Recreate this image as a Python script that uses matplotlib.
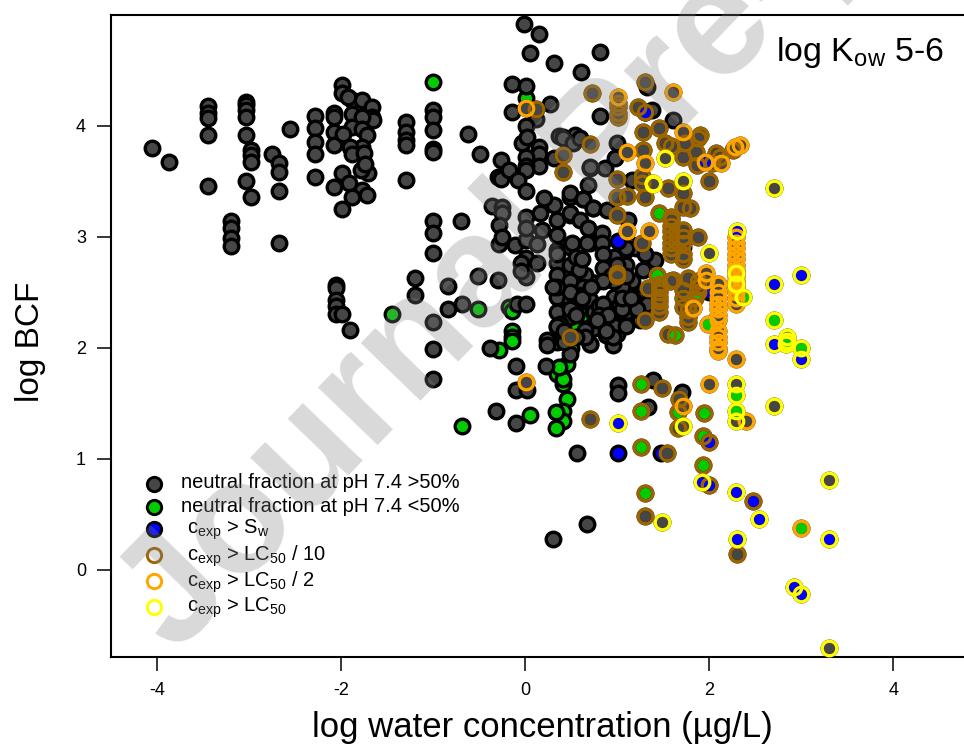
import matplotlib
matplotlib.use("Agg")
import matplotlib.pyplot as plt

plt.rcParams['font.family'] = ['Liberation Sans', 'DejaVu Sans']
plt.rcParams['mathtext.fontset'] = 'custom'
plt.rcParams['mathtext.rm'] = 'Liberation Sans'
plt.rcParams['mathtext.default'] = 'regular'

dark_x = [-4.05,-3.87,-3.45,-3.45,-3.45,-3.45,-3.45,-3.03,-3.03,-3.03,-3.03,-3.03,-3.03,-2.98,-2.98,-2.98,-2.98,
 -3.2,-3.2,-3.2,-3.2,-2.55,-2.75,-2.68,-2.68,-2.68,-2.68,-2.28,-2.28,-2.28,-2.28,-2.28,-2.08,-2.08,-2.08,-2.08,-2.08,
 -1.99,-1.99,-1.99,-1.99,-2.05,-2.05,-2.05,-2.05,-2.05,-1.99,-1.9,
 -1.88,-1.77,-1.66,-1.66,-1.65,-1.88,-1.77,-1.88,-1.77,-1.72,-1.98,-1.77,-1.9,-1.88,-1.75,-1.71,-1.78,-1.74,-1.91,-1.77,-1.72,-1.88,-1.93,
 -1.3,-1.3,-1.3,-1.3,-1.3,-1,-1,-1,-1,-1,-1,-1,-1,-1,-1,-1,
 -0.62,-0.49,-0.70,-0.26,-0.29,-0.26,-0.18,-0.36,-0.25,-0.25,-0.28,-0.14,0.01,-0.14,-0.01,0.15,0.05,0.31,0.61,0.81,0.27,0.12,0.01,-0.03,0.02,
 0.37,0.41,0.54,0.48,0.15,0.15,0.15,0.01,0.01,0.01,0.31,-0.08,0.01,0.49,0.31,0.63,0.74,0.68,0.71,0.16,0.01,0.35,0.49,0.2,
 -1.2,-1.2,-0.84,-0.84,-0.69,-0.51,-0.29,-0.28,-0.25,-0.11,0.01,0.13,0.01,0.18,0.01,0.13,-0.04,0.01,-0.04,
 -0.09,0.01,-0.38,-0.1,-0.1,0.02,-0.32,-0.10,
 0.35,0.35,0.35,0.35,0.35,0.35,0.35,0.49,0.49,0.49,0.49,0.49,0.49,0.24,0.24,0.23,0.71,0.75,0.74,0.68,0.75,0.63,0.62,0.71,
 1.39,1.01,1.01,1.7,1.33,0.56,0.67,0.3,1.32,1.38,0.81,1.61,
 0.41,0.52,0.6,0.71,0.87,0.98,1.0,1.16,0.49,0.63,0.74,0.89,0.49,0.6,0.68,0.84,0.51,0.67,0.84,1.12,1.16,
 0.70,0.75,0.75,0.75,0.65,0.63,0.65,0.71,0.97,0.97,0.97,1.0,0.95,1.07,1.1,1.1,1.1,1.1,1.1,0.85,1.28,1.41,1.28,1.16,
 0.55,0.58,0.85,0.93,1.05,1.22,1.3,1.25,0.38,0.42,0.58,0.8,0.92,1.02,1.18,1.22,0.49,0.56,0.65,0.8,0.88,1.05,0.35,0.42,
 0.97,1.1,0.97,1.1,0.85,0.85,0.8,0.49,0.49,0.35,0.35,0.62,0.62,0.55,1.2,1.3,1.32,1.0,1.1,1.22,
 0.9,0.95,0.88,1.05,1.15,0.55,0.3,0.42,0.72,0.78]
dark_y = [3.80,3.68,4.18,4.12,4.07,3.92,3.46,4.22,4.19,4.14,4.08,3.92,3.50,3.78,3.74,3.68,3.36,
 3.14,3.08,2.99,2.92,3.97,3.75,3.67,3.59,3.41,2.95,4.09,3.98,3.86,3.75,3.54,4.12,4.08,3.95,3.83,3.45,
 4.37,4.30,3.25,3.58,2.57,2.54,2.43,2.38,2.31,2.31,2.16,
 4.23,4.23,4.17,4.08,4.05,4.11,4.08,3.99,3.97,3.92,3.93,3.81,3.81,3.75,3.76,3.58,3.6,3.66,3.49,3.42,3.38,3.36,4.26,
 4.04,3.95,3.87,3.83,3.51,4.14,4.08,3.96,3.79,3.14,3.04,2.86,2.23,1.99,1.72,3.77,
 3.93,3.75,3.14,3.69,3.54,3.52,3.60,3.28,3.27,3.22,3.11,4.38,4.36,4.13,4.92,4.83,4.66,4.57,4.49,4.67,4.2,4.06,4.0,3.85,3.9,
 3.91,3.90,3.92,3.85,3.81,3.75,3.64,3.72,3.64,3.60,3.71,3.51,3.41,3.36,3.29,3.34,3.26,3.47,3.62,3.22,3.18,3.15,3.2,3.35,
 2.63,2.48,2.56,2.35,2.40,2.65,2.61,2.94,3.0,2.93,2.97,2.94,3.08,3.06,2.81,2.77,2.77,2.64,2.69,
 2.40,2.40,2.0,1.84,1.62,1.62,1.43,1.32,
 3.02,2.88,2.77,2.66,2.46,2.32,2.19,2.91,2.75,2.59,2.42,2.28,1.95,2.07,2.03,1.84,2.04,2.18,2.32,2.43,2.59,2.66,2.55,2.95,
 1.71,1.67,1.59,1.6,1.47,1.05,0.41,0.28,4.35,4.14,4.09,4.05,
 3.89,3.85,3.89,3.63,3.62,3.71,3.85,3.51,3.4,3.34,3.26,3.24,3.22,3.15,3.08,3.04,2.95,2.95,2.95,3.15,2.93,
 2.43,2.59,2.32,2.18,2.66,2.55,2.16,2.04,2.82,2.46,2.32,2.13,2.03,2.22,2.32,2.46,2.52,2.59,2.75,2.85,2.70,2.79,2.5,2.6,
 2.82,2.7,2.72,2.65,2.55,2.45,2.38,2.25,2.22,2.12,2.48,2.38,2.3,2.38,2.42,2.4,2.6,2.45,2.1,2.25,2.12,2.35,2.2,2.05,
 2.2,2.2,2.6,2.65,2.6,2.4,2.3,2.35,2.5,2.55,2.85,2.8,2.45,2.3,2.9,2.85,2.4,2.75,2.9,2.35,
 2.3,2.1,2.15,2.45,2.45,2.1,2.55,2.15,2.55,2.25]

green_x = [-1,-1.45,0.01,-0.51,-0.18,-0.14,-0.14,-0.14,-0.14,-0.28,0.05,-0.69,
 0.41,0.45,0.41,0.41,0.33,0.34,0.35,0.41,0.45,0.37,0.35,0.62,1.08,0.02,0.55,0.5]
green_y = [4.40,2.31,4.25,2.35,2.37,2.33,2.15,2.10,2.06,1.98,1.40,1.30,
 1.68,1.54,1.43,1.34,1.42,1.28,1.77,1.72,1.86,1.83,2.05,2.3,2.87,3.67,2.22,2.0]

blue_x = [1.01,1.01,1.48,1.72,2.0,1.3]
blue_y = [2.96,1.05,1.05,2.91,2.5,4.13]

brown_x = [0.73,0.12,0.71,0.41,0.41,0.49,0.71,1.3,1.01,1.01,1.01,1.01,1.23,1.3,
 1.28,1.45,1.9,1.88,1.52,1.58,1.74,1.86,1.71,1.28,2.07,2.12,2.26,1.87,2.03,2.0,1.55,1.71,1.3,1.27,1.27,
 1.0,1.0,1.11,1.0,1.27,1.45,1.71,1.79,1.58,1.58,1.58,1.58,1.58,1.58,1.58,1.58,1.71,1.71,1.71,1.71,1.71,1.88,1.77,1.61,
 1.0,1.0,1.3,1.34,1.43,1.45,1.45,1.45,1.45,1.45,1.45,1.45,1.57,1.55,1.63,1.71,1.71,1.71,1.77,1.77,1.77,1.88,1.88,1.88,1.85,
 1.26,1.49,1.67,1.66,1.26,1.94,1.66,1.93,2.0,1.26,1.54,1.93,2.0,1.3,2.48,1.3,2.3]
brown_y = [4.30,4.15,3.84,3.74,3.59,2.10,1.36,4.40,4.21,4.17,4.12,4.08,4.17,4.13,
 3.95,3.98,3.92,3.89,3.85,3.82,3.85,3.77,3.72,3.78,3.76,3.72,3.78,3.65,3.67,3.5,3.44,3.4,3.36,3.49,3.55,
 3.52,3.36,3.37,3.2,2.95,3.22,3.27,3.26,3.18,3.15,3.1,3.05,3.0,2.95,2.9,2.85,3.06,3.0,2.95,2.85,2.8,3.0,2.63,2.61,
 2.65,2.68,2.25,2.54,2.66,2.58,2.54,2.5,2.46,2.42,2.38,2.32,2.6,2.13,2.12,2.52,2.45,2.37,2.34,2.28,2.23,2.6,2.55,2.5,2.45,
 1.68,1.64,1.54,1.42,1.43,1.41,1.28,1.21,1.15,1.11,1.05,0.95,0.77,0.69,0.62,0.49,0.14]
brown_fill = ("d"*13 + "b" + "d"*21 + "dddddgdd" + "d"*16 + "ddddg" + "d"*7 + "ddg" + "d"*9 + "g"
              + "gddgggdgbgdgbgbdd")

orange_x = [0.01,0.01,1.01,1.61,1.71,1.11,1.3,1.95,2.13,2.28,2.33,1.11,1.35,1.97,1.97,1.82,
 2.1,2.1,2.1,2.1,2.1,2.1,2.1,2.1,2.1,2.1,2.1,2.1,1.99,
 2.29,2.29,2.29,2.29,2.29,2.29,2.29,2.29,2.29,2.29,2.29,2.29,2.29,2.0,1.71,2.4,3.0,2.29]
orange_y = [4.16,1.69,4.26,4.31,3.95,3.77,3.67,3.68,3.67,3.81,3.83,3.05,3.05,2.68,2.61,2.36,
 2.58,2.5,2.45,2.4,2.35,2.3,2.25,2.15,2.1,2.05,2.0,1.97,2.22,
 3.0,2.95,2.9,2.85,2.8,2.75,2.7,2.65,2.6,2.55,2.5,2.45,2.4,1.68,1.48,1.34,0.38,1.90]
orange_fill = "dddddddbdddddddd" + "dddddddddddd" + "g" + "d"*13 + "dddgd"

yellow_x = [1.52,1.39,1.39,1.71,2.7,2.30,2.0,2.29,2.29,2.37,2.7,3.0,2.7,2.7,2.85,2.85,2.83,3.0,3.0,2.7,
 2.29,2.29,2.29,2.29,1.01,1.71,1.92,2.29,3.3,2.54,1.49,3.3,2.3,2.92,3.0,3.3]
yellow_y = [3.71,3.48,3.49,3.5,3.44,3.05,2.86,2.68,2.58,2.46,2.58,2.66,2.25,2.04,2.10,2.06,2.04,2.0,1.9,1.48,
 1.68,1.58,1.43,1.34,1.32,1.3,0.79,0.7,0.81,0.46,0.43,0.28,0.28,-0.15,-0.22,-0.7]
yellow_fill = "dddddbdddgbbgbggggbddggdbdbbdbdbbbbd"

x_ticks = [-4, -2, 0, 2, 4]
y_ticks = [0, 1, 2, 3, 4]
x_label = "log water concentration (µg/L)"
y_label = "log BCF"
legend_labels = ["neutral fraction at pH 7.4 >50%", "neutral fraction at pH 7.4 <50%",
                 r"c$_{exp}$ > S$_{w}$", r"c$_{exp}$ > LC$_{50}$ / 10",
                 r"c$_{exp}$ > LC$_{50}$ / 2", r"c$_{exp}$ > LC$_{50}$"]

W, H = 964, 744
C_DARK, C_GREEN, C_BLUE = "#464646", "#00cc00", "#0000ff"
C_BROWN, C_ORANGE, C_YELLOW = "#9c6500", "#ffa500", "#ffff00"
FILLS = {"d": C_DARK, "g": C_GREEN, "b": C_BLUE}
MS, MEW = 10.5, 2.4
fig = plt.figure(figsize=(W/100, H/100), dpi=100)
ax = fig.add_axes([111/W, 1-657/H, (W-111+2)/W, (657-15)/H])
ax.set_xlim(-4.5, 4.79)
ax.set_ylim(-0.784, 5.0)

def dots(x, y, c, z):
    ax.plot(x, y, ls="none", marker="o", ms=MS, mfc=c, mec="black", mew=MEW, zorder=z)

def rings(x, y, c, fill, z):
    n = min(len(x), len(y), len(fill))
    for k, col in FILLS.items():
        xs = [x[i] for i in range(n) if fill[i] == k]
        ys = [y[i] for i in range(n) if fill[i] == k]
        dots(xs, ys, col, 3)
    ax.plot(x[:n], y[:n], ls="none", marker="o", ms=MS, mfc="none", mec=c, mew=2.4, zorder=z)

n = min(len(dark_x), len(dark_y))
dots(green_x, green_y, C_GREEN, 2)
dots(dark_x[:n], dark_y[:n], C_DARK, 2.1)
dots(blue_x, blue_y, C_BLUE, 2.2)
rings(brown_x, brown_y, C_BROWN, brown_fill, 4)
rings(orange_x, orange_y, C_ORANGE, orange_fill, 5)
rings(yellow_x, yellow_y, C_YELLOW, yellow_fill, 6)

ax.spines["right"].set_visible(False)
for s in ["left", "top", "bottom"]:
    ax.spines[s].set_linewidth(1.5)
ax.set_xticks(x_ticks, [str(v) for v in x_ticks])
ax.set_yticks(y_ticks, [str(v) for v in y_ticks])
ax.tick_params(length=10, width=1.1, labelsize=13, pad=8)

fig.text(542/W, 1-728/H, x_label, fontsize=25, ha="center", va="center")
fig.text(31/W, 1-342/H, y_label, fontsize=24, ha="center", va="center", rotation=90)
fig.text(776/W, 1-52/H, r"log K$_{ow}$ 5-6", fontsize=24.5, ha="left", va="center")

leg_y = [484, 507, 529, 555, 581, 607]
leg_tx = [181, 181, 187, 187, 187, 187]
leg_txt_y = [483, 507, 530, 556, 582, 608]
leg_fill = [C_DARK, C_GREEN, C_BLUE, None, None, None]
leg_edge = ["black", "black", "black", C_BROWN, C_ORANGE, C_YELLOW]
for i in range(6):
    xa = (154-111)/(W-111+2)
    ya = (657-leg_y[i])/(657-15)
    ax.plot([xa], [ya], transform=ax.transAxes, ls="none", marker="o", ms=10.3, mew=2.1,
            mfc=leg_fill[i] if leg_fill[i] else "none", mec=leg_edge[i], zorder=7)
    fig.text(leg_tx[i]/W, 1-leg_txt_y[i]/H, legend_labels[i], fontsize=14.5, ha="left", va="center")

fig.text(175/W, 1-655/H, "Journal Pre-proof", fontsize=114, fontweight="bold", color="#808080",
         alpha=0.3, rotation=46, rotation_mode="anchor", ha="left", va="baseline", zorder=20)

fig.savefig("out.png", dpi=100)
